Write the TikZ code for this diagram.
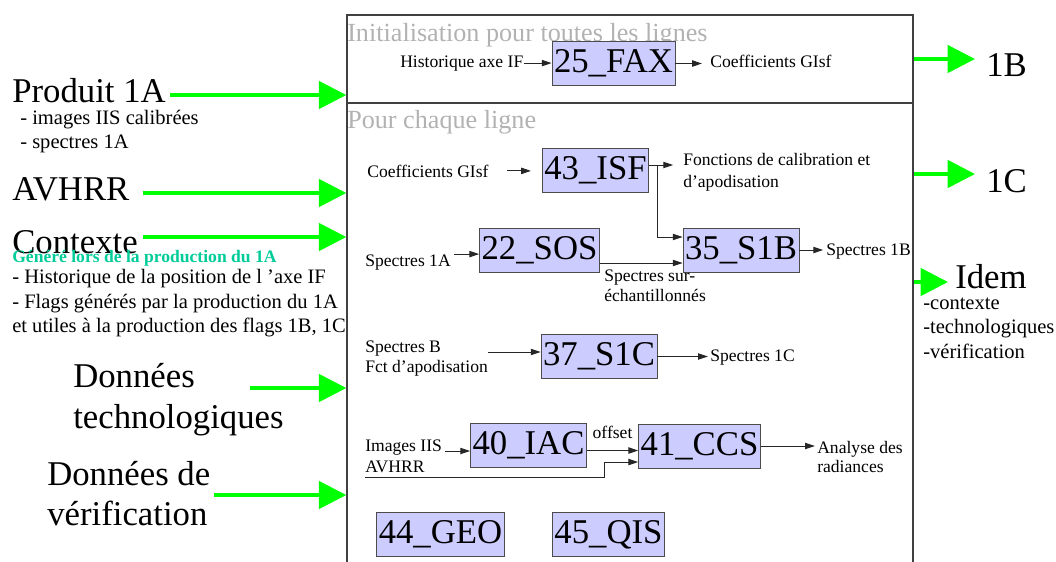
\documentclass[tikz,border=0pt]{standalone}
\usepackage{fontspec}
\setmainfont{Liberation Serif}
\usepackage{xcolor}
\usepackage{tikz}
\usetikzlibrary{arrows.meta,calc}

\definecolor{lavande}{RGB}{204,204,255}
\definecolor{vertvif}{RGB}{0,255,0}
\definecolor{vertbleu}{RGB}{0,204,153}
\definecolor{grisclair}{RGB}{178,178,178}

\newcommand{\fgrand}{\fontsize{24.7}{28}\selectfont}
\newcommand{\ftitre}{\fontsize{18.6}{22}\selectfont}
\newcommand{\fmoyen}{\fontsize{14.6}{17}\selectfont}
\newcommand{\fpetit}{\fontsize{12.5}{15}\selectfont}

\tikzset{
  module/.style={draw=black!70, fill=lavande, font=\fgrand, minimum height=31.3pt, inner xsep=1.5pt, inner ysep=0pt},
  grand/.style={font=\fgrand, inner sep=0pt, anchor=base west},
  moyen/.style={font=\fmoyen, inner sep=0pt, anchor=base west},
  petit/.style={font=\fpetit, inner sep=0pt, anchor=base west},
  titre/.style={font=\ftitre, text=grisclair, inner sep=0pt, anchor=base west},
  fleche/.style={-{Triangle[length=7pt,width=4.5pt]}, line width=0.7pt, draw=black!85},
  vert/.style={-{Triangle[length=19.5pt,width=19.5pt]}, line width=2.5pt, draw=vertvif},
  bord/.style={draw=black!75, line width=0.9pt},
}

\begin{document}
\begin{tikzpicture}[x=0.025cm,y=-0.025cm]
    \path[use as bounding box] (0,0) rectangle (1056,561);
    \clip (0,0) rectangle (1056,561);

    % Cadre
    \node[bord, minimum width=14.15cm, minimum height=14.625cm, inner sep=0pt] (cadre) at (630,307.5) {};
    \draw[bord] (cadre.west |- 0,103) -- (cadre.east |- 0,103);

    % Entrees
    \node[grand] (prod) at (12,102) {Produit 1A};
    \node[moyen] (img) at (20,124) {- images IIS calibrées};
    \node[moyen] (spec) at (20,148) {- spectres 1A};
    \node[grand] (avh) at (12,200) {AVHRR};
    \node[grand] (ctx) at (12,253) {Contexte};
    \node[petit, font=\fpetit\bfseries, text=vertbleu] (gen) at (12,262) {Généré lors de la production du 1A};
    \node[moyen] (hist1) at (12,283) {- Historique de la position de l ’axe IF};
    \node[moyen] (flag1) at (12,308) {- Flags générés par la production du 1A};
    \node[moyen] (flag2) at (12,332) {et utiles à la production des flags 1B, 1C};
    \node[grand] (tech1) at (73,387) {Données};
    \node[grand] (tech2) at (73,428) {technologiques};
    \node[grand] (verif1) at (47,485) {Données de};
    \node[grand] (verif2) at (47,525) {vérification};

    \coordinate (eProd) at (170,95);
    \coordinate (eAvh) at (143,193);
    \coordinate (eCtx) at (143,237);
    \coordinate (eTech) at (250,388);
    \coordinate (eVerif) at (214,495);
    \foreach \e in {eProd,eAvh,eCtx,eTech,eVerif}
        \draw[vert] (\e) -- (\e -| cadre.west);

    % Sorties
    \node[grand] (u1B) at (986,76) {1B};
    \node[grand] (u1C) at (986,192) {1C};
    \node[grand] (idem) at (955,288) {Idem};
    \node[moyen] (idem1) at (923,309) {-contexte};
    \node[moyen] (idem2) at (923,333) {-technologiques};
    \node[moyen] (idem3) at (923,358) {-vérification};

    \coordinate (s1B) at (975,59);
    \coordinate (s1C) at (975,174);
    \coordinate (sIdem) at (948,282);
    \foreach \s in {s1B,s1C,sIdem}
        \draw[vert] (\s -| cadre.east) -- (\s);

    % Initialisation
    \node[titre] (titre1) at (347,41) {Initialisation pour toutes les lignes};
    \node[petit] (hist) at (400,67) {Historique axe IF};
    \node[module] (fax) at (613.5,63.5) {25\_FAX};
    \node[petit] (coefA) at (710,67) {Coefficients GIsf};
    \draw[fleche] (hist.east) -- (hist.east -| fax.west);
    \draw[fleche, shorten >=5.7pt] (fax.east) -- (fax.east -| coefA.west);

    % Pour chaque ligne
    \node[titre] (titre2) at (347,128) {Pour chaque ligne};
    \node[petit] (coefB) at (367,177) {Coefficients GIsf};
    \node[module] (isf) at (595.5,170) {43\_ISF};
    \node[petit] (fonc1) at (683,165) {Fonctions de calibration et};
    \node[petit] (fonc2) at (683,187) {d’apodisation};
    \draw[fleche, shorten <=12.8pt, shorten >=7.8pt] (coefB.east) -- (coefB.east -| isf.west);
    \coordinate (bif) at (657,165);
    \draw[fleche, shorten >=7pt] (isf.east |- bif) -- (bif -| fonc1.west);

    \node[petit] (spec1A) at (365,266) {Spectres 1A};
    \node[module] (sos) at (539.5,250) {22\_SOS};
    \node[module] (s1b) at (741,250) {35\_S1B};
    \node[petit] (spec1B) at (826,255) {Spectres 1B};
    \node[petit] (surech1) at (604,281) {Spectres sur-};
    \node[petit] (surech2) at (604,301) {échantillonnés};
    \draw[fleche, shorten <=2pt] (spec1A.north east) -- (spec1A.north east -| sos.west);
    \draw[fleche] (bif) |- ($(s1b.west)+(0,-13)$);
    \draw[fleche] ($(sos.east)+(0,13)$) -- ($(s1b.west)+(0,13)$);
    \draw[fleche, shorten >=2pt] (s1b.east) -- (s1b.east -| spec1B.west);

    \node[petit] (specB1) at (365,352) {Spectres B};
    \node[petit] (specB2) at (365,372) {Fct d’apodisation};
    \node[module] (s1c) at (599,356.5) {37\_S1C};
    \node[petit] (spec1C) at (710,361) {Spectres 1C};
    \draw[fleche] (specB1.base -| specB2.east) -- (specB1.base -| s1c.west);
    \draw[fleche, shorten >=1.5pt] (s1c.east) -- (s1c.east -| spec1C.west);

    \node[petit] (imgs) at (365,451) {Images IIS};
    \node[petit] (avhB) at (365,472) {AVHRR};
    \node[module] (iac) at (528.5,445.5) {40\_IAC};
    \node[module] (ccs) at (699.5,446) {41\_CCS};
    \node[petit] (ana1) at (817,453) {Analyse des};
    \node[petit] (ana2) at (817,472) {radiances};
    \draw[fleche, shorten <=2pt] (imgs.base east) -- (imgs.base east -| iac.west);
    \draw[fleche] ($(iac.east)+(0,5)$) -- ($(iac.east -| ccs.west)+(0,5)$)
        node[midway, above=7.8pt, font=\fpetit, inner sep=0pt] {offset};
    \draw[fleche] ($(avhB.base west)+(0,5)$) -- ++(239,0) |- ($(ccs.west)+(0,16)$);
    \draw[fleche, shorten >=1.5pt] (ccs.east) -- (ccs.east -| ana1.west);

    \node[module] (geo) at (440.5,534.5) {44\_GEO};
    \node[module] (qis) at (608.5,534.5) {45\_QIS};
\end{tikzpicture}
\end{document}
